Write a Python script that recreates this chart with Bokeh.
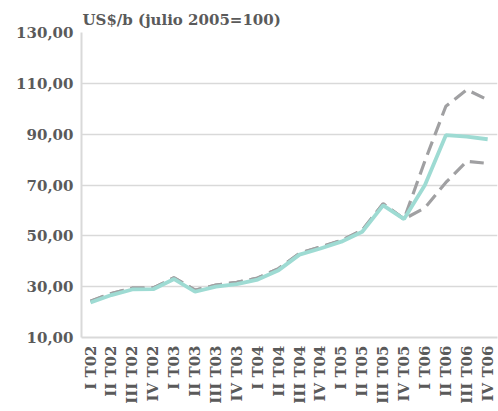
import math
from bokeh.plotting import figure
from bokeh.models import Range1d, FixedTicker, Title
from bokeh.embed import file_html
from bokeh.resources import INLINE

quarters = ["I T02", "II T02", "III T02", "IV T02",
            "I T03", "II T03", "III T03", "IV T03",
            "I T04", "II T04", "III T04", "IV T04",
            "I T05", "II T05", "III T05", "IV T05",
            "I T06", "II T06", "III T06", "IV T06"]

central = [23.8, 26.7, 28.9, 29.0, 33.0, 28.0, 30.0, 31.0, 32.8, 36.5,
           42.6, 45.0, 47.7, 51.6, 62.0, 56.6, 70.0, 89.6, 89.0, 88.0]
upper = [24.3, 27.3, 29.4, 29.5, 33.5, 28.6, 30.6, 31.7, 33.4, 37.1,
         43.1, 45.6, 48.2, 52.2, 62.6, 56.6, 79.5, 101.0, 107.5, 103.5]
lower = [24.3, 27.3, 29.4, 29.5, 33.5, 28.6, 30.6, 31.7, 33.4, 37.1,
         43.1, 45.6, 48.2, 52.2, 62.6, 56.6, 61.0, 71.0, 79.3, 78.5]

y_ticks = [10, 30, 50, 70, 90, 110, 130]
y_tick_labels = ["10,00", "30,00", "50,00", "70,00", "90,00", "110,00", "130,00"]
title_text = "US$/b (julio 2005=100)"

FONT = "DejaVu Serif"
TXT = "#5a5a5a"
GRID = "#d9d9d9"

xs = list(range(len(quarters)))

p = figure(width=498, height=411, output_backend="svg", toolbar_location=None,
           x_range=Range1d(-0.431, 19.47), y_range=Range1d(10, 130),
           min_border_left=81, min_border_right=1, min_border_bottom=74,
           min_border_top=32)

p.add_layout(Title(text=title_text, align="left", text_font=FONT,
                   text_font_size="15px", text_color=TXT, text_font_style="bold",
                   standoff=8, offset=1), "above")

p.outline_line_color = None
p.background_fill_color = "white"
p.border_fill_color = "white"

p.line(xs, upper, line_color="#a0a0a2", line_width=3.2, line_dash="14 7")
p.line(xs, lower, line_color="#a0a0a2", line_width=3.2, line_dash="14 7")
p.line(xs, central, line_color="#9edbd3", line_width=3.8)

p.xgrid.grid_line_color = None
p.ygrid.grid_line_color = GRID
p.ygrid.grid_line_width = 1.5
p.ygrid.ticker = FixedTicker(ticks=y_ticks)

p.yaxis.ticker = FixedTicker(ticks=y_ticks)
p.yaxis.major_label_overrides = {t: l for t, l in zip(y_ticks, y_tick_labels)}
p.xaxis.ticker = FixedTicker(ticks=xs)
p.xaxis.major_label_overrides = {x: q for x, q in zip(xs, quarters)}
p.xaxis.major_label_orientation = math.pi / 2

for ax in (p.xaxis, p.yaxis):
    ax.axis_line_color = GRID
    ax.axis_line_width = 2
    ax.major_tick_line_color = None
    ax.minor_tick_line_color = None
    ax.major_tick_out = 0
    ax.major_tick_in = 0
    ax.major_label_text_font = FONT
    ax.major_label_text_font_size = "15px"
    ax.major_label_text_font_style = "bold"
    ax.major_label_text_color = TXT
    ax.major_label_standoff = 8

open("out.html", "w").write(file_html(p, INLINE))
